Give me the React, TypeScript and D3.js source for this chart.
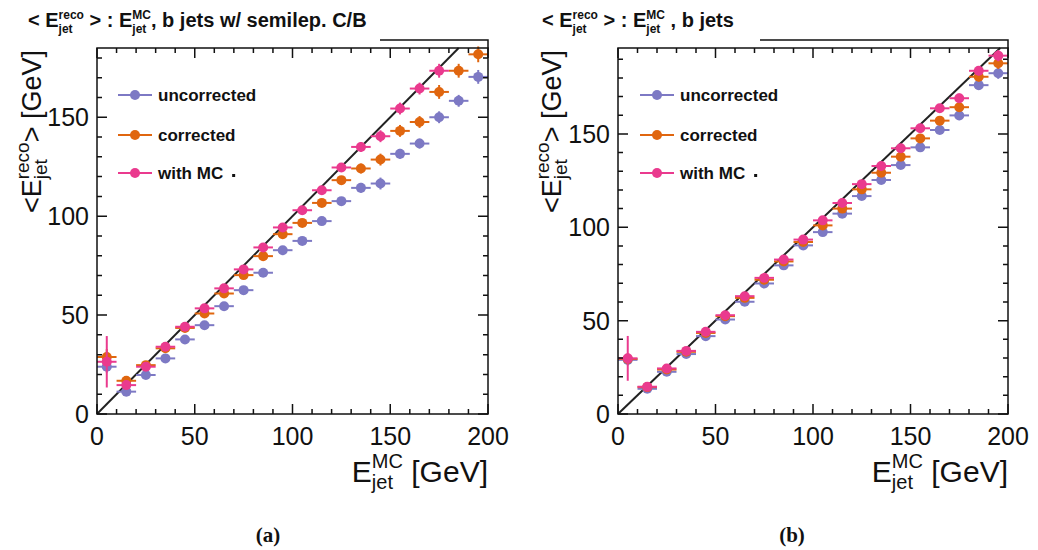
import React, { useEffect, useRef } from "react";
import * as d3 from "d3";

// ---------- data ----------
const BINS = [5, 15, 25, 35, 45, 55, 65, 75, 85, 95, 105, 115, 125, 135, 145, 155, 165, 175, 185, 195];
const BIN_HALF = 5;

// panel (a): b jets w/ semilep. C/B
const UNC_A = [23.9, 11.3, 19.7, 28.1, 37.7, 44.9, 54.5, 62.6, 71.4, 82.8, 87.5, 97.5, 107.6, 114.3, 116.5, 131.5, 136.7, 150.0, 158.3, 170.4];
const COR_A = [28.8, 16.8, 24.7, 33.2, 43.5, 50.8, 60.9, 70.2, 79.8, 90.9, 96.6, 106.7, 118.2, 124.1, 128.6, 143.1, 147.6, 162.8, 173.5, 181.8];
const MC_A: (number | null)[] = [26.4, 14.6, 23.9, 34.0, 44.1, 53.4, 63.5, 73.1, 84.2, 94.3, 103.0, 113.1, 124.6, 135.0, 140.4, 154.4, 164.5, 173.5, null, null];
const ERR_UNC_A = [3, 1, 1, 1, 1, 1, 1, 1, 1.5, 1.5, 1.5, 2, 2, 2.5, 3, 2.5, 2.5, 3, 3, 3.5];
const ERR_COR_A = [4, 1, 1, 1, 1, 1, 1, 1.2, 1.5, 1.5, 1.5, 2, 2, 2.5, 3, 3, 3, 3.5, 3.5, 4];
const ERR_MC_A = [13, 1.5, 1, 1, 1, 1, 1, 1, 1.5, 1.5, 1.5, 2, 2, 2.5, 3, 3, 3, 3.5, 0, 0];

// panel (b): b jets
const UNC_B = [29.0, 13.5, 22.6, 32.1, 41.7, 50.6, 60.1, 69.9, 79.6, 90.3, 97.4, 107.3, 116.7, 125.3, 133.3, 142.8, 152.1, 159.9, 176.1, 182.5];
const COR_B = [29.5, 14.4, 23.8, 33.3, 43.4, 52.4, 62.2, 71.9, 81.7, 92.1, 101.0, 110.0, 120.3, 129.2, 137.8, 147.6, 157.1, 164.3, 180.6, 187.8];
const MC_B = [29.8, 14.6, 24.4, 33.8, 44.0, 52.9, 63.1, 72.9, 82.7, 93.4, 103.7, 113.0, 123.1, 132.8, 142.3, 153.0, 163.7, 169.1, 183.8, 191.9];
const ERR_UNC_B = [3, 1, 1, 1, 1, 1, 1, 1, 1, 1.2, 1.2, 1.5, 1.5, 1.5, 2, 2, 2, 2.5, 2.5, 3];
const ERR_COR_B = [3, 1, 1, 1, 1, 1, 1, 1, 1, 1.2, 1.2, 1.5, 1.5, 1.5, 2, 2, 2, 2.5, 2.5, 3];
const ERR_MC_B = [12, 1, 1, 1, 1, 1, 1, 1, 1, 1.2, 1.2, 1.5, 1.5, 1.5, 2, 2, 2, 2.5, 2.5, 3];

const SERIES_NAMES = ["uncorrected", "corrected", "with MC"];
const SERIES_COLORS = ["#7d79c4", "#e0660f", "#ea3a8e"];
const X_TICKS = [0, 50, 100, 150, 200];
const Y_TICKS = [0, 50, 100, 150];

const FONT = "'Liberation Sans', Arial, Helvetica, sans-serif";
const R = 5;

type Piece =
  | { text: string; size: number; dy?: number }
  | { sup: string; sub: string; size: number; supDy: number; subDy: number };

function richText(g: any, pieces: Piece[], weight: string) {
  let x = 0;
  const add = (s: string, size: number, dy: number) => {
    const t = g
      .append("text")
      .attr("x", x)
      .attr("y", dy)
      .attr("font-size", size)
      .attr("font-family", FONT)
      .attr("font-weight", weight)
      .attr("fill", "#111")
      .attr("xml:space", "preserve")
      .style("white-space", "pre")
      .text(s);
    return (t.node() as SVGTextElement).getComputedTextLength();
  };
  for (const p of pieces) {
    if ("text" in p) {
      x += add(p.text, p.size, p.dy || 0);
    } else {
      const w1 = add(p.sup, p.size, p.supDy);
      const w2 = add(p.sub, p.size, p.subDy);
      x += Math.max(w1, w2);
    }
  }
  return x;
}

interface PanelCfg {
  id: string;
  x0: number;
  x1: number;
  yTop: number;
  yBot: number;
  ymax: number;
  series: { vals: (number | null)[]; errs: number[] }[];
  title: Piece[];
  titleX: number;
  titleLineX: number;
  yTitleX: number;
  legendX: number;
  caption: string;
  captionX: number;
}

export default function App() {
  const ref = useRef<SVGSVGElement>(null);

  useEffect(() => {
    const svg = d3.select(ref.current);
    svg.selectAll("*").remove();

    const titleBase = (tail: string): Piece[] => [
      { text: "< E", size: 20 },
      { sup: "reco", sub: "jet", size: 12, supDy: -8, subDy: 6 },
      { text: " > : E", size: 20 },
      { sup: "MC", sub: "jet", size: 12, supDy: -8, subDy: 6 },
      { text: tail, size: 20 },
    ];

    const panels: PanelCfg[] = [
      {
        id: "a",
        x0: 97,
        x1: 488,
        yTop: 48,
        yBot: 414,
        ymax: 185,
        series: [
          { vals: UNC_A, errs: ERR_UNC_A },
          { vals: COR_A, errs: ERR_COR_A },
          { vals: MC_A, errs: ERR_MC_A },
        ],
        title: titleBase(", b jets w/ semilep. C/B"),
        titleX: 28,
        titleLineX: 380,
        yTitleX: 41,
        legendX: 135,
        caption: "(a)",
        captionX: 268,
      },
      {
        id: "b",
        x0: 618,
        x1: 1008,
        yTop: 48,
        yBot: 414,
        ymax: 196,
        series: [
          { vals: UNC_B, errs: ERR_UNC_B },
          { vals: COR_B, errs: ERR_COR_B },
          { vals: MC_B, errs: ERR_MC_B },
        ],
        title: titleBase(" , b jets"),
        titleX: 542,
        titleLineX: 760,
        yTitleX: 561,
        legendX: 657,
        caption: "(b)",
        captionX: 792,
      },
    ];

    panels.forEach((p) => {
      const g = svg.append("g");
      const x = d3.scaleLinear().domain([0, 200]).range([p.x0, p.x1]);
      const y = d3.scaleLinear().domain([0, p.ymax]).range([p.yBot, p.yTop]);

      // clip
      const clipId = "clip-" + p.id;
      svg
        .append("defs")
        .append("clipPath")
        .attr("id", clipId)
        .append("rect")
        .attr("x", p.x0)
        .attr("y", p.yTop - 6)
        .attr("width", p.x1 - p.x0 + 6)
        .attr("height", p.yBot - p.yTop + 6);

      // title
      const tg = g.append("g").attr("transform", `translate(${p.titleX},27)`);
      richText(tg, p.title, "bold");
      g.append("path")
        .attr("d", `M${p.titleLineX},40H${p.x1}V${p.yTop}`)
        .attr("fill", "none")
        .attr("stroke", "#111")
        .attr("stroke-width", 1.5);

      // diagonal y = x
      const dmax = Math.min(200, p.ymax);
      g.append("line")
        .attr("clip-path", `url(#${clipId})`)
        .attr("x1", x(0))
        .attr("y1", y(0))
        .attr("x2", x(dmax))
        .attr("y2", y(dmax))
        .attr("stroke", "#222")
        .attr("stroke-width", 2);

      // data
      const dg = g.append("g").attr("clip-path", `url(#${clipId})`);
      p.series.forEach((s, si) => {
        const col = SERIES_COLORS[si];
        BINS.forEach((b, i) => {
          const v = s.vals[i];
          if (v === null || v === undefined) return;
          dg.append("line")
            .attr("x1", x(b - BIN_HALF))
            .attr("x2", x(b + BIN_HALF))
            .attr("y1", y(v))
            .attr("y2", y(v))
            .attr("stroke", col)
            .attr("stroke-width", 2);
          const e = s.errs[i];
          if (e > 0) {
            dg.append("line")
              .attr("x1", x(b))
              .attr("x2", x(b))
              .attr("y1", y(v - e))
              .attr("y2", y(v + e))
              .attr("stroke", col)
              .attr("stroke-width", 2);
          }
          dg.append("circle")
            .attr("cx", x(b))
            .attr("cy", y(v))
            .attr("r", R)
            .attr("fill", col);
        });
      });

      // frame
      g.append("rect")
        .attr("x", p.x0)
        .attr("y", p.yTop)
        .attr("width", p.x1 - p.x0)
        .attr("height", p.yBot - p.yTop)
        .attr("fill", "none")
        .attr("stroke", "#111")
        .attr("stroke-width", 1.5);

      // ticks
      const tickPath: string[] = [];
      d3.range(0, 201, 10).forEach((t) => {
        const len = t % 50 === 0 ? 10 : 5;
        tickPath.push(`M${x(t)},${p.yBot}v${-len}`);
        tickPath.push(`M${x(t)},${p.yTop}v${len}`);
      });
      d3.range(0, p.ymax + 0.001, 10).forEach((t) => {
        const len = t % 50 === 0 ? 10 : 5;
        tickPath.push(`M${p.x0},${y(t)}h${len}`);
        tickPath.push(`M${p.x1},${y(t)}h${-len}`);
      });
      g.append("path")
        .attr("d", tickPath.join(""))
        .attr("stroke", "#111")
        .attr("stroke-width", 1.5)
        .attr("fill", "none");

      // tick labels
      X_TICKS.forEach((t) => {
        g.append("text")
          .attr("x", x(t))
          .attr("y", 445)
          .attr("text-anchor", "middle")
          .attr("font-family", FONT)
          .attr("font-size", 25)
          .attr("fill", "#111")
          .text(String(t));
      });
      Y_TICKS.forEach((t) => {
        g.append("text")
          .attr("x", p.x0 - 8)
          .attr("y", y(t) + 9)
          .attr("text-anchor", "end")
          .attr("font-family", FONT)
          .attr("font-size", 25)
          .attr("fill", "#111")
          .text(String(t));
      });

      // x title (right aligned)
      const xt = g.append("g");
      const xw = richText(
        xt,
        [
          { text: "E", size: 30 },
          { sup: "MC", sub: "jet", size: 20, supDy: -14, subDy: 7 },
          { text: " [GeV]", size: 30 },
        ],
        "normal"
      );
      xt.attr("transform", `translate(${p.x1 - xw},482)`);

      // y title (rotated, end at top)
      const yt = g.append("g");
      const yw = richText(
        yt,
        [
          { text: "<E", size: 27 },
          { sup: "reco", sub: "jet", size: 19, supDy: -12, subDy: 6 },
          { text: "> [GeV]", size: 27 },
        ],
        "normal"
      );
      yt.attr("transform", `translate(${p.yTitleX},${50}) rotate(-90) translate(${-yw},0)`);

      // legend
      SERIES_NAMES.forEach((name, i) => {
        const ly = [95, 135, 173][i];
        const col = SERIES_COLORS[i];
        g.append("line")
          .attr("x1", p.legendX - 17)
          .attr("x2", p.legendX + 17)
          .attr("y1", ly)
          .attr("y2", ly)
          .attr("stroke", col)
          .attr("stroke-width", 2);
        g.append("circle").attr("cx", p.legendX).attr("cy", ly).attr("r", R).attr("fill", col);
        const txt = g
          .append("text")
          .attr("x", p.legendX + 23)
          .attr("y", ly + 6)
          .attr("font-family", FONT)
          .attr("font-weight", "bold")
          .attr("font-size", 17)
          .attr("fill", "#111")
          .text(name);
        if (i === 2) {
          const w = (txt.node() as SVGTextElement).getComputedTextLength();
          g.append("rect")
            .attr("x", p.legendX + 23 + w + 9)
            .attr("y", ly + 1)
            .attr("width", 3)
            .attr("height", 3)
            .attr("fill", "#111");
        }
      });

      // caption
      g.append("text")
        .attr("x", p.captionX)
        .attr("y", 542)
        .attr("text-anchor", "middle")
        .attr("font-family", "'Liberation Serif', 'DejaVu Serif', serif")
        .attr("font-weight", "bold")
        .attr("font-size", 21)
        .attr("fill", "#111")
        .text(p.caption);
    });
  }, []);

  return (
    <svg
      ref={ref}
      width={1038}
      height={550}
      style={{ position: "absolute", left: 0, top: 0, background: "#fff" }}
    />
  );
}
